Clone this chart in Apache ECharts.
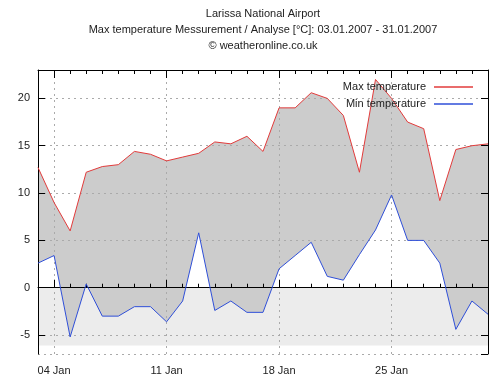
<!DOCTYPE html>
<html>
<head>
<meta charset="utf-8">
<script src="https://cdn.jsdelivr.net/npm/echarts@6/dist/echarts.min.js"></script>
<style>html,body{margin:0;padding:0;background:#fff;}#c{width:498px;height:386px;}</style>
</head>
<body>
<div id="c"></div>
<script>
const days = ['03 Jan','04 Jan','05 Jan','06 Jan','07 Jan','08 Jan','09 Jan','10 Jan','11 Jan','12 Jan','13 Jan','14 Jan','15 Jan','16 Jan','17 Jan','18 Jan','19 Jan','20 Jan','21 Jan','22 Jan','23 Jan','24 Jan','25 Jan','26 Jan','27 Jan','28 Jan','29 Jan','30 Jan','31 Jan'];
const maxT = [12.7, 9.0, 6.0, 12.2, 12.8, 13.0, 14.4, 14.1, 13.4, 13.8, 14.2, 15.4, 15.2, 16.0, 14.4, 19.0, 19.0, 20.6, 20.0, 18.2, 12.2, 22.0, 20.0, 17.5, 16.8, 9.2, 14.6, 15.0, 15.2];
const minT = [2.6, 3.4, -5.2, 0.4, -3.0, -3.0, -2.0, -2.0, -3.6, -1.4, 5.8, -2.4, -1.4, -2.6, -2.6, 2.0, 3.4, 4.8, 1.2, 0.8, 3.5, 6.1, 9.8, 5.0, 5.0, 2.6, -4.4, -1.4, -2.8];
const frostBand = [0, -6.1];
const titleLines = ['Larissa National Airport', 'Max temperature Messurement / Analyse [°C]: 03.01.2007 - 31.01.2007', '© weatheronline.co.uk'];
const seriesNames = ['Max temperature', 'Min temperature'];
const labelEvery = 7, labelOffset = 1;

const FONT = 'Liberation Sans, Arial, sans-serif';
const isLabeled = (i) => i % labelEvery === labelOffset;

const chart = echarts.init(document.getElementById('c'), null, {renderer: 'canvas'});
const baseX = {type: 'category', data: days, boundaryGap: false, gridIndex: 0, z: 3};
const gridLine = {color: '#aaaaaa', type: [2, 4], width: 1};

function renderFills(params, api) {
  if (params.dataIndex !== 0) return null;
  const n = minT.length;
  const top = frostBand[0], bottom = frostBand[1];
  const frost = [];
  for (let i = 0; i < n; i++) {
    frost.push(api.coord([i, Math.min(minT[i], top)]));
    if (i < n - 1) {
      const a = minT[i] - top, b = minT[i + 1] - top;
      if ((a < 0 && b > 0) || (a > 0 && b < 0)) {
        const pA = api.coord([i, minT[i]]), pB = api.coord([i + 1, minT[i + 1]]);
        const t = a / (a - b);
        const y0 = api.coord([i, top])[1];
        frost.push([pA[0] + t * (pB[0] - pA[0]), y0]);
      }
    }
  }
  frost.push(api.coord([n - 1, bottom]));
  frost.push(api.coord([0, bottom]));
  const range = [];
  for (let i = 0; i < n; i++) range.push(api.coord([i, maxT[i]]));
  for (let i = n - 1; i >= 0; i--) range.push(api.coord([i, minT[i]]));
  return {
    type: 'group',
    children: [
      {type: 'polygon', z2: 0, shape: {points: frost}, style: {fill: '#ececec'}},
      {type: 'polygon', z2: 10, shape: {points: range}, style: {fill: '#cccccc'}}
    ]
  };
}

chart.setOption({
  animation: false,
  backgroundColor: '#ffffff',
  textStyle: {fontFamily: FONT},
  graphic: titleLines.map((t, i) => ({
    type: 'text', x: 263, y: 13.5 + i * 16,
    style: {text: t, align: 'center', verticalAlign: 'middle', font: '11px ' + FONT, fill: '#222'}
  })),
  grid: {left: 38, right: 10, top: 70, bottom: 32, containLabel: false},
  legend: {
    data: seriesNames, orient: 'vertical', right: 25, top: 80, align: 'right', z: 10,
    icon: 'rect', itemWidth: 39, itemHeight: 1.5, itemGap: 3, padding: 0,
    textStyle: {fontSize: 11, color: '#222', fontFamily: FONT, lineHeight: 14, padding: [0, 3, 0, 0]}
  },
  xAxis: [
    Object.assign({}, baseX, {
      position: 'bottom',
      axisLine: {show: true, lineStyle: {color: '#000', width: 1}},
      axisTick: {show: true, inside: true, length: 4, interval: 0, lineStyle: {color: '#000'}},
      axisLabel: {show: true, interval: (i) => isLabeled(i), margin: 11, fontSize: 11, color: '#222', fontFamily: FONT},
      splitLine: {show: true, interval: (i) => isLabeled(i), lineStyle: gridLine}
    }),
    Object.assign({}, baseX, {
      position: 'bottom',
      axisLine: {show: false},
      axisTick: {show: true, inside: true, length: 8, interval: (i) => isLabeled(i), lineStyle: {color: '#000'}},
      axisLabel: {show: false}, splitLine: {show: false}
    }),
    Object.assign({}, baseX, {
      position: 'top',
      axisLine: {show: true, lineStyle: {color: '#000', width: 1}},
      axisTick: {show: true, inside: true, length: 4, interval: 0, lineStyle: {color: '#000'}},
      axisLabel: {show: false}, splitLine: {show: false}
    }),
    Object.assign({}, baseX, {
      position: 'top',
      axisLine: {show: false},
      axisTick: {show: true, inside: true, length: 8, interval: (i) => isLabeled(i), lineStyle: {color: '#000'}},
      axisLabel: {show: false}, splitLine: {show: false}
    })
  ],
  yAxis: [
    {
      type: 'value', min: -7, max: 23, splitNumber: 6, position: 'left', z: 3,
      axisLine: {show: true, lineStyle: {color: '#000', width: 1}},
      axisTick: {show: true, inside: true, length: 7, lineStyle: {color: '#000'}},
      axisLabel: {show: true, margin: 8, fontSize: 11, color: '#222', fontFamily: FONT, showMinLabel: false, showMaxLabel: false},
      splitLine: {show: true, lineStyle: gridLine}
    },
    {
      type: 'value', min: -7, max: 23, splitNumber: 6, position: 'right', z: 3,
      axisLine: {show: true, lineStyle: {color: '#000', width: 1}},
      axisTick: {show: true, inside: true, length: 7, lineStyle: {color: '#000'}},
      axisLabel: {show: false}, splitLine: {show: false}
    }
  ],
  series: [
    {
      name: 'fills', type: 'custom', z: 1, silent: true, clip: false, data: [[0, 0]],
      renderItem: renderFills
    },
    {
      name: seriesNames[0], type: 'line', data: maxT, symbol: 'none', z: 4,
      color: '#e23b3b', lineStyle: {color: '#e23b3b', width: 1}
    },
    {
      name: seriesNames[1], type: 'line', data: minT, symbol: 'none', z: 4,
      color: '#2f4fd8', lineStyle: {color: '#2f4fd8', width: 1}
    }
  ]
});
</script>
</body>
</html>
